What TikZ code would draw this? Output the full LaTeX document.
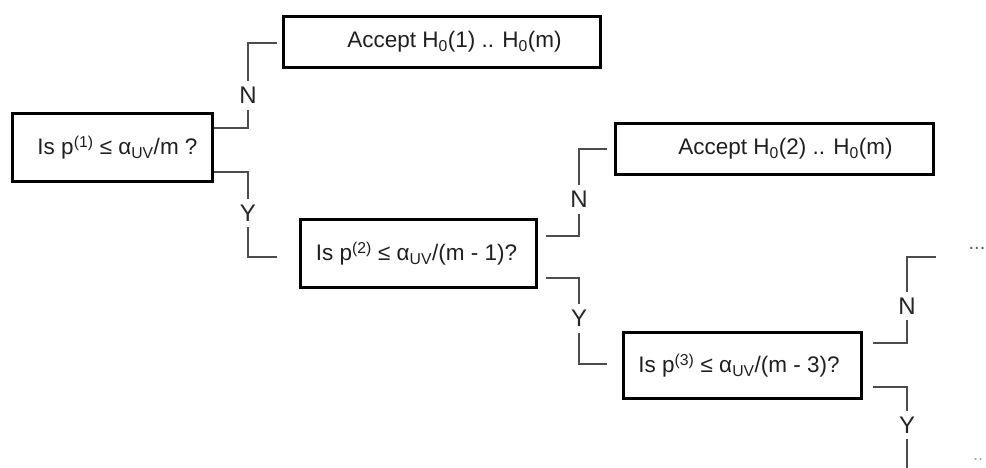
\documentclass[tikz,border=0pt]{standalone}
\usepackage{fontspec}
\setmainfont{Liberation Sans}
\begin{document}
\begin{tikzpicture}[x=1pt,y=-1pt,
  box/.style={draw=black, line width=2.8pt, inner sep=0pt, fill=white},
  txt/.style={text=black!88, font=\fontsize{22.5}{26}\selectfont},
  conn/.style={draw=black!70, line width=1.5pt},
  yn/.style={fill=white, inner xsep=1pt, inner ysep=6pt, text=black!85, font=\fontsize{24}{28}\selectfont}]
\useasboundingbox (0,0) rectangle (986,468);
% boxes
\node[box, minimum width=317pt, minimum height=51pt,
  label={[txt, xshift=12.5pt]center:Accept H\textsubscript{0}(1) .. H\textsubscript{0}(m)}] (a1) at (442,42) {};
\node[box, minimum width=200pt, minimum height=68pt,
  label={[txt, xshift=5pt]center:Is p\textsuperscript{(1)} ≤ α\textsubscript{UV}/m ?}] (q1) at (112.5,147.5) {};
\node[box, minimum width=236pt, minimum height=68pt,
  label={[txt, xshift=-2pt]center:Is p\textsuperscript{(2)} ≤ α\textsubscript{UV}/(m - 1)?}] (q2) at (418.5,253.5) {};
\node[box, minimum width=318pt, minimum height=51pt,
  label={[txt, xshift=11pt]center:Accept H\textsubscript{0}(2) .. H\textsubscript{0}(m)}] (a2) at (774.5,149) {};
\node[box, minimum width=238pt, minimum height=66pt,
  label={[txt, xshift=-3.5pt]center:Is p\textsuperscript{(3)} ≤ α\textsubscript{UV}/(m - 3)?}] (q3) at (742.5,365.5) {};
% free ends
\coordinate (endN3) at (936,257);
\coordinate (endY3) at (907,470);
% connectors
\draw[conn] (q1.east |- 0,128) -- (248,128) -- node[yn, pos=0.38]{N} (248,43) -- ([xshift=-5pt]a1.west |- 0,43);
\draw[conn] (q1.east |- 0,172) -- (248,172) -- node[yn, pos=0.48]{Y} (248,257) -- ([xshift=-22pt]q2.west |- 0,257);
\draw[conn] ([xshift=8pt]q2.east |- 0,236) -- (579,236) -- node[yn, pos=0.42]{N} (579,149) -- ([xshift=-7pt]a2.west |- 0,149);
\draw[conn] ([xshift=8pt]q2.east |- 0,278) -- (579,278) -- node[yn, pos=0.47]{Y} (579,364) -- ([xshift=-15pt]q3.west |- 0,364);
\draw[conn] ([xshift=10pt]q3.east |- 0,343) -- (907,343) -- node[yn, pos=0.43]{N} (907,257) -- (endN3);
\draw[conn] ([xshift=10pt]q3.east |- 0,387) -- (907,387) -- node[yn, pos=0.46]{Y} (endY3);
\node[text=black!65, font=\fontsize{20}{22}\selectfont] (dots1) at (977,248) {...};
\node[text=black!35, font=\fontsize{18}{20}\selectfont] (dots2) at (978,460) {..};
\end{tikzpicture}
\end{document}
